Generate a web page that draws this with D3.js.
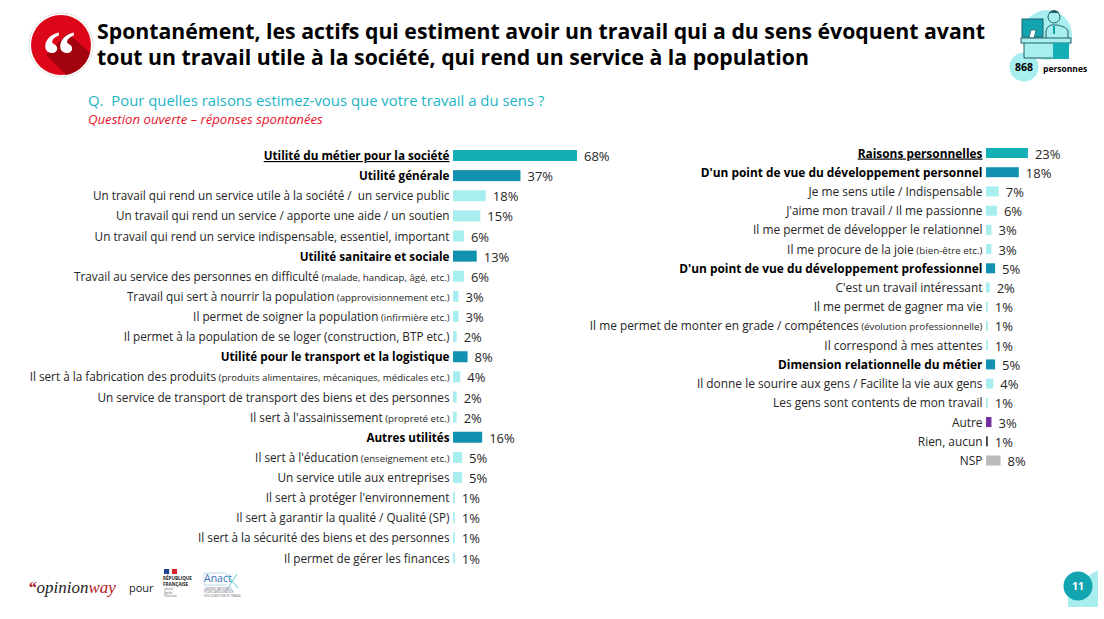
<!DOCTYPE html>
<html lang="fr"><head><meta charset="utf-8">
<script src="https://cdn.jsdelivr.net/npm/d3@7/dist/d3.min.js"></script>
<style>html,body{margin:0;background:#fff}svg{display:block;font-family:"Open Sans","Noto Sans",sans-serif}svg text{white-space:pre}</style>
</head><body><svg id="c" width="1104" height="619"></svg>
<script>
const titleLines=["Spontanément, les actifs qui estiment avoir un travail qui a du sens évoquent avant","tout un travail utile à la société, qui rend un service à la population"];
const questionText="Q.  Pour quelles raisons estimez-vous que votre travail a du sens ?";
const questionNote="Question ouverte – réponses spontanées";

const leftLabels=["Utilité du métier pour la société","Utilité générale","Un travail qui rend un service utile à la société /  un service public","Un travail qui rend un service / apporte une aide / un soutien","Un travail qui rend un service indispensable, essentiel, important","Utilité sanitaire et sociale","Travail au service des personnes en difficulté","Travail qui sert à nourrir la population","Il permet de soigner la population","Il permet à la population de se loger (construction, BTP etc.)","Utilité pour le transport et la logistique","Il sert à la fabrication des produits","Un service de transport de transport des biens et des personnes","Il sert à l'assainissement","Autres utilités","Il sert à l'éducation","Un service utile aux entreprises","Il sert à protéger l'environnement","Il sert à garantir la qualité / Qualité (SP)","Il sert à la sécurité des biens et des personnes","Il permet de gérer les finances"];
const leftNotes=["","","","","","","(malade, handicap, âgé, etc.)","(approvisionnement etc.)","(infirmière etc.)","","","(produits alimentaires, mécaniques, médicales etc.)","","(propreté etc.)","","(enseignement etc.)","","","","",""];
const leftValues=[68,37,18,15,6,13,6,3,3,2,8,4,2,2,16,5,5,1,1,1,1];
const leftKinds=["top","group","item","item","item","group","item","item","item","item","group","item","item","item","group","item","item","item","item","item","item"];

const rightLabels=["Raisons personnelles","D'un point de vue du développement personnel","Je me sens utile / Indispensable","J'aime mon travail / Il me passionne","Il me permet de développer le relationnel","Il me procure de la joie","D'un point de vue du développement professionnel","C'est un travail intéressant","Il me permet de gagner ma vie","Il me permet de monter en grade / compétences","Il correspond à mes attentes","Dimension relationnelle du métier","Il donne le sourire aux gens / Facilite la vie aux gens","Les gens sont contents de mon travail","Autre","Rien, aucun","NSP"];
const rightNotes=["","","","","","(bien-être etc.)","","","","(évolution professionnelle)","","","","","","",""];
const rightValues=[23,18,7,6,3,3,5,2,1,1,1,5,4,1,3,1,8];
const rightKinds=["top","group","item","item","item","item","group","item","item","item","item","group","item","item","other","none","nsp"];

const kindColor={top:"#12B0B5",group:"#1391B0",item:"#A8EEEE",other:"#7030A0",none:"#404040",nsp:"#BBBBBB"};
const svg=d3.select("#c");

function panel(labels,notes,values,kinds,x0,y0,y1,barH,itemSize,boldSize,noteSize){
  const x=d3.scaleLinear().domain([0,68]).range([x0,x0+124]);
  const y=d3.scalePoint().domain(d3.range(labels.length)).range([y0,y1]);
  const g=svg.append("g");
  const strong=k=>k==="top"||k==="group";
  g.selectAll("rect").data(values).join("rect")
    .attr("x",x(0)).attr("y",(d,i)=>y(i)-barH/2)
    .attr("width",d=>x(d)-x(0)).attr("height",barH)
    .attr("fill",(d,i)=>kindColor[kinds[i]]);
  g.selectAll("text.v").data(values).join("text").attr("class","v")
    .attr("x",d=>x(d)+7).attr("y",(d,i)=>y(i)+5.5)
    .attr("font-size",13).attr("fill","#262626").text(d=>d+"%");
  const t=g.selectAll("text.l").data(labels).join("text").attr("class","l")
    .attr("x",x0-3.5).attr("y",(d,i)=>y(i)+4.5)
    .attr("text-anchor","end")
    .attr("font-size",(d,i)=>strong(kinds[i])?boldSize:itemSize)
    .attr("font-weight",(d,i)=>strong(kinds[i])?700:400)
    .attr("fill",(d,i)=>strong(kinds[i])?"#000":"#262626")
    .attr("text-decoration",(d,i)=>kinds[i]==="top"?"underline":null);
  t.append("tspan").text(d=>d);
  t.append("tspan").attr("font-size",noteSize).text((d,i)=>notes[i]?" "+notes[i]:"");
}
panel(leftLabels,leftNotes,leftValues,leftKinds,453,155.5,558,11,11.75,11.7,9.7);
panel(rightLabels,rightNotes,rightValues,rightKinds,986,153,460.5,10,11.9,11.9,9.8);

// Title
svg.selectAll("text.t").data(titleLines).join("text").attr("class","t")
  .attr("x",97).attr("y",(d,i)=>i?65:38.5).attr("font-size",21.25).attr("font-weight",700).attr("fill","#000").text(d=>d);
svg.append("text").attr("x",88).attr("y",106).attr("font-size",14.9).attr("fill","#1DB5C4").text(questionText);
svg.append("text").attr("x",88).attr("y",124).attr("font-size",13.2).attr("font-style","italic").attr("fill","#E8132A").text(questionNote);

// Quote badge
const b=svg.append("g");
b.append("circle").attr("cx",61).attr("cy",45).attr("r",32).attr("fill","#fff").attr("stroke","#ccc").attr("stroke-dasharray","1.5 1");
b.append("circle").attr("cx",61).attr("cy",45).attr("r",30).attr("fill","#DD0518");
b.append("path").attr("d","M46 55 L66 75 A30 30 0 0 0 90 53 L68 33 Z").attr("fill","#A2030F");
b.append("text").attr("x",42).attr("y",78).attr("font-family","'Liberation Serif',serif").attr("font-weight",700).attr("font-size",68).attr("fill","#fff").text("“");

// Person icon
const p=svg.append("g");
p.append("circle").attr("cx",1047).attr("cy",35).attr("r",25).attr("fill","#A8EEEE");
p.append("circle").attr("cx",1024).attr("cy",67).attr("r",14.5).attr("fill","#A8EEEE");
p.append("rect").attr("x",1022).attr("y",19).attr("width",21).attr("height",18).attr("fill","#12A5B0").attr("stroke","#1F5F6B");
p.append("path").attr("d","M1029 38 l2 -8 h5 l-2 8 Z").attr("fill","#fff").attr("stroke","#1F5F6B").attr("stroke-width",.7);
p.append("circle").attr("cx",1054).attr("cy",17).attr("r",6).attr("fill","#A8EEEE").attr("stroke","#1F5F6B");
p.append("path").attr("d","M1049 13 q5 -5 10 0").attr("fill","#1F5F6B").attr("stroke","#1F5F6B");
p.append("path").attr("d","M1046 38 v-7 q0 -4 5 -6 h6 q10 2 11 6 v7").attr("fill","#A8EEEE").attr("stroke","#1F5F6B");
p.append("path").attr("d","M1054 26 v8").attr("stroke","#12A5B0").attr("stroke-width",2);
p.append("rect").attr("x",1024).attr("y",43).attr("width",29).attr("height",15.5).attr("fill","#A8EEEE");
p.append("rect").attr("x",1021).attr("y",38).attr("width",50).attr("height",5).attr("fill","#A8EEEE").attr("stroke","#1F5F6B");
p.append("rect").attr("x",1053).attr("y",43).attr("width",16).attr("height",16).attr("fill","#12B0B5");
p.append("path").attr("d","M1024 43 v15 h29").attr("fill","none").attr("stroke","#1F5F6B");
svg.append("text").attr("x",1024).attr("y",71).attr("text-anchor","middle").attr("font-size",10.5).attr("font-weight",700).text("868");
svg.append("text").attr("x",1043).attr("y",71.5).attr("font-size",8.5).attr("font-weight",700).text("personnes");

// Footer
const f=svg.append("g");
const o=f.append("text").attr("x",28).attr("y",593).attr("font-family","'Liberation Serif',serif").attr("font-style","italic").attr("font-size",17);
o.append("tspan").attr("fill","#B5161F").attr("font-weight",700).text("“");
o.append("tspan").attr("fill","#222").text("opinion");
o.append("tspan").attr("fill","#B5161F").text("way");
f.append("text").attr("x",129).attr("y",592).attr("font-size",11).attr("fill","#222").text("pour");
f.append("rect").attr("x",164).attr("y",569).attr("width",5).attr("height",5).attr("fill","#1F3F8F");
f.append("rect").attr("x",169).attr("y",569).attr("width",3).attr("height",5).attr("fill","#eee");
f.append("rect").attr("x",172).attr("y",569).attr("width",5).attr("height",5).attr("fill","#D8202F");
f.append("text").attr("x",163).attr("y",579.5).attr("font-size",4.6).attr("font-weight",700).attr("fill","#222").text("RÉPUBLIQUE");
f.append("text").attr("x",163).attr("y",586).attr("font-size",4.6).attr("font-weight",700).attr("fill","#222").text("FRANÇAISE");
["Liberté","Égalité","Fraternité"].forEach((s,i)=>f.append("text").attr("x",164).attr("y",590+i*3.6).attr("font-size",2.8).attr("fill","#555").text(s));
f.append("text").attr("x",204).attr("y",582).attr("font-size",10.5).attr("fill","#3B6FB5").text("Anact");
f.append("path").attr("d","M226 574 L238 588 M237 574 L228 588").attr("stroke","#5CC8D0").attr("stroke-width",1).attr("fill","none");
f.append("path").attr("d","M204 573 H226 M204 585 H227 M204 573 V585").attr("stroke","#9CC8E0").attr("stroke-width",.7).attr("fill","none");
["L'AGENCE NATIONALE","POUR L'AMÉLIORATION","DES CONDITIONS DE TRAVAIL"].forEach((s,i)=>f.append("text").attr("x",204).attr("y",589.5+i*3.6).attr("font-size",2.7).attr("fill","#667").text(s));

// Page number
svg.append("path").attr("d","M1068 607 L1068 588 L1098 570 L1098 607 Z").attr("fill","#A8EEEE");
svg.append("circle").attr("cx",1078).attr("cy",586).attr("r",14.5).attr("fill","#12A5B0");
svg.append("text").attr("x",1078).attr("y",590).attr("text-anchor","middle").attr("font-size",10.5).attr("font-weight",700).attr("fill","#fff").text("11");
</script></body></html>
